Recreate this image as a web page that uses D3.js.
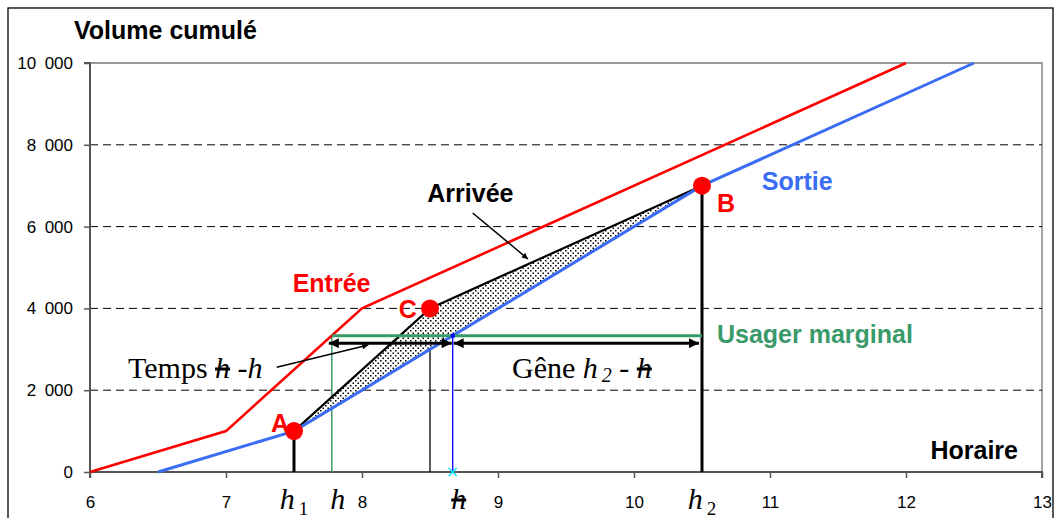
<!DOCTYPE html>
<html>
<head>
<meta charset="utf-8">
<script src="https://cdn.jsdelivr.net/npm/d3@7"></script>
<style>
  body { margin: 0; background: #fff; }
  svg { display: block; }
  .sans { font-family: "Liberation Sans", Arial, sans-serif; }
  .serif { font-family: "Liberation Serif", "Times New Roman", serif; }
</style>
</head>
<body>
<div id="chart"></div>
<script>
// Courbes cumulées (heure, volume)
const entreeX = [6, 7, 8, 12];
const entreeY = [0, 1000, 4000, 10000];
const sortieX = [6.5, 7.5, 10.5, 12.5];
const sortieY = [0, 1000, 7000, 10000];
const arriveeX = [7.5, 8.5, 10.5];
const arriveeY = [1000, 4000, 7000];

// points remarquables
const pointNames = ["A", "C", "B"];
const pointX = [7.5, 8.5, 10.5];
const pointY = [1000, 4000, 7000];

// usager marginal
const margVolume = 3333;
const margEntree = 7.778;   // h
const margSortie = 8.667;   // h'
const arrowVolume = 3150;
const h1 = 7.5, h2 = 10.5, hC = 8.5;

const xTicks = [6, 7, 8, 9, 10, 11, 12, 13];
const yTicks = [0, 2000, 4000, 6000, 8000, 10000];

const red = "#ff0000", blue = "#3a6cf4", green = "#3a9a6a";

const W = 1055, H = 518;
const svg = d3.select("#chart").append("svg").attr("width", W).attr("height", H);

const x = d3.scaleLinear().domain([6, 13]).range([90, 1042]);
const y = d3.scaleLinear().domain([0, 10000]).range([472, 63]);

const defs = svg.append("defs");
const pat = defs.append("pattern").attr("id", "dots")
    .attr("patternUnits", "userSpaceOnUse").attr("width", 5).attr("height", 5);
pat.append("rect").attr("width", 5).attr("height", 5).attr("fill", "#fff");
pat.append("rect").attr("x", 0).attr("y", 0).attr("width", 1.5).attr("height", 1.5).attr("fill", "#000");
pat.append("rect").attr("x", 2.5).attr("y", 2.5).attr("width", 1.5).attr("height", 1.5).attr("fill", "#000");

function marker(id, w, h) {
    defs.append("marker").attr("id", id)
        .attr("viewBox", "0 0 10 10").attr("refX", 10).attr("refY", 5)
        .attr("markerUnits", "userSpaceOnUse")
        .attr("markerWidth", w).attr("markerHeight", h)
        .attr("orient", "auto-start-reverse")
        .append("path").attr("d", "M0,0 L10,5 L0,10 Z").attr("fill", "#000");
}
marker("arrowBig", 13, 10);
marker("arrowSmall", 9, 6);

// cadre extérieur
svg.append("rect").attr("x", 8).attr("y", 8).attr("width", 1045).attr("height", 530)
    .attr("fill", "none").attr("stroke", "#000").attr("stroke-width", 1.3);

// bord du graphique (haut et droite)
svg.append("path")
    .attr("d", `M${x(6)},${y(10000)} H${x(13)} V${y(0)}`)
    .attr("fill", "none").attr("stroke", "#999").attr("stroke-width", 1.8);

// grille pointillée
svg.append("g").selectAll("line").data(yTicks.filter(d => d > 0 && d < 10000)).enter()
    .append("line")
    .attr("x1", x(6)).attr("x2", x(13))
    .attr("y1", d => y(d)).attr("y2", d => y(d))
    .attr("stroke", "#000").attr("stroke-width", 1).attr("stroke-dasharray", "8 5");

// axes
const fr = d3.formatLocale({ decimal: ",", thousands: "\u2002", grouping: [3], currency: ["", ""] });
const yAxis = svg.append("g")
    .attr("transform", `translate(${x(6)},0)`)
    .call(d3.axisLeft(y).tickValues(yTicks).tickSize(6).tickPadding(11).tickFormat(fr.format(",")));
const xAxis = svg.append("g")
    .attr("transform", `translate(0,${y(0)})`)
    .call(d3.axisBottom(x).tickValues(xTicks).tickSize(6).tickPadding(18).tickFormat(d3.format("d")));
[yAxis, xAxis].forEach(g => {
    g.attr("font-size", null).attr("font-family", null);
    g.select(".domain").attr("stroke", "#555").attr("stroke-width", 2);
    g.selectAll(".tick line").attr("stroke", "#555").attr("stroke-width", 1.5);
    g.selectAll("text")
        .style("font-size", "17px")
        .style("font-family", "'Liberation Sans', Arial, sans-serif")
        .attr("fill", "#000");
});
xAxis.select(".domain").attr("d", `M${x(6)},6V0H${x(13)}V6`);
yAxis.select(".domain").attr("d", `M-6,${y(10000)}H0V${y(0)}`);

// verticales
svg.append("line")
    .attr("x1", x(margEntree)).attr("x2", x(margEntree))
    .attr("y1", y(0)).attr("y2", y(margVolume))
    .attr("stroke", green).attr("stroke-width", 1.5);
svg.append("line")
    .attr("x1", x(hC)).attr("x2", x(hC))
    .attr("y1", y(0)).attr("y2", y(sortieY[1] + (hC - sortieX[1]) * 2000))
    .attr("stroke", "#000").attr("stroke-width", 1.3);
svg.append("line")
    .attr("x1", x(margSortie)).attr("x2", x(margSortie))
    .attr("y1", y(0)).attr("y2", y(margVolume))
    .attr("stroke", "#0000ff").attr("stroke-width", 1.3);
svg.append("line")
    .attr("x1", x(h1)).attr("x2", x(h1)).attr("y1", y(0)).attr("y2", y(pointY[0]))
    .attr("stroke", "#000").attr("stroke-width", 3);
svg.append("line")
    .attr("x1", x(h2)).attr("x2", x(h2)).attr("y1", y(0)).attr("y2", y(pointY[2]))
    .attr("stroke", "#000").attr("stroke-width", 3);

// zone de file d'attente (entre Arrivée et Sortie)
const lineGen = d3.line().x(d => x(d[0])).y(d => y(d[1]));
const arrivee = arriveeX.map((v, i) => [v, arriveeY[i]]);
const sortie = sortieX.map((v, i) => [v, sortieY[i]]);
const entree = entreeX.map((v, i) => [v, entreeY[i]]);
svg.append("path")
    .attr("d", lineGen(arrivee.concat([[sortieX[1], sortieY[1]]])) + "Z")
    .attr("fill", "url(#dots)").attr("stroke", "none");
svg.append("path").attr("d", lineGen(arrivee))
    .attr("fill", "none").attr("stroke", "#000").attr("stroke-width", 2.2);

// courbes
svg.append("path").attr("d", lineGen(sortie))
    .attr("fill", "none").attr("stroke", blue).attr("stroke-width", 3);
svg.append("path").attr("d", lineGen(entree))
    .attr("fill", "none").attr("stroke", red).attr("stroke-width", 2.6);

// usager marginal
svg.append("line")
    .attr("x1", x(margEntree)).attr("x2", x(h2))
    .attr("y1", y(margVolume)).attr("y2", y(margVolume))
    .attr("stroke", green).attr("stroke-width", 3);
svg.append("rect")
    .attr("x", x(margSortie) - 2).attr("y", y(margVolume) - 2).attr("width", 4).attr("height", 4)
    .attr("fill", "#0000ff");
svg.append("path")
    .attr("d", `M${x(margSortie) - 4},${y(0) - 4}l8,8M${x(margSortie) + 4},${y(0) - 4}l-8,8`)
    .attr("stroke", "#00e5ff").attr("stroke-width", 1.5);

// flèches
svg.append("line")
    .attr("x1", x(margEntree) - 3).attr("x2", x(margSortie) - 1)
    .attr("y1", y(arrowVolume)).attr("y2", y(arrowVolume))
    .attr("stroke", "#000").attr("stroke-width", 3)
    .attr("marker-start", "url(#arrowBig)").attr("marker-end", "url(#arrowBig)");
svg.append("line")
    .attr("x1", x(margSortie) + 1).attr("x2", x(h2) - 3)
    .attr("y1", y(arrowVolume)).attr("y2", y(arrowVolume))
    .attr("stroke", "#000").attr("stroke-width", 3)
    .attr("marker-start", "url(#arrowBig)").attr("marker-end", "url(#arrowBig)");

// traits de rappel
svg.append("line")
    .attr("x1", x(8.814)).attr("y1", y(6333)).attr("x2", x(9.22)).attr("y2", y(5208))
    .attr("stroke", "#000").attr("stroke-width", 1.5).attr("marker-end", "url(#arrowSmall)");
svg.append("line")
    .attr("x1", x(7.373)).attr("y1", y(2560)).attr("x2", x(8.046)).attr("y2", y(3105))
    .attr("stroke", "#000").attr("stroke-width", 1.5).attr("marker-end", "url(#arrowSmall)");

// points A, B, C
svg.append("g").selectAll("circle").data(pointX).enter()
    .append("circle")
    .attr("cx", d => x(d)).attr("cy", (d, i) => y(pointY[i])).attr("r", 9)
    .attr("fill", red);

// libellés
function label(txt, px, py, color, size, anchor) {
    return svg.append("text").attr("class", "sans")
        .attr("x", px).attr("y", py).attr("fill", color)
        .attr("font-size", size).attr("font-weight", "bold")
        .attr("text-anchor", anchor || "start").text(txt);
}
label("Volume cumulé", 74, 39, "#000", 25);
label("Horaire", 1018, 459, "#000", 25, "end");
label("Entrée", x(7.49), y(4400), red, 25);
label("Sortie", x(10.94), y(6895), blue, 25);
label("Arrivée", x(8.48), y(6600), "#000", 25);
label("Usager marginal", x(10.61), y(3154), green, 25);
label(pointNames[0], x(7.33), y(985), red, 25);
label(pointNames[1], x(8.27), y(3773), red, 25);
label(pointNames[2], x(10.61), y(6364), red, 25);

// textes en Times
function hLabel(px, py, sub, struck) {
    const t = svg.append("text").attr("class", "serif")
        .attr("x", px).attr("y", py).attr("text-anchor", "middle").attr("font-size", 30);
    t.append("tspan").attr("font-style", "italic")
        .attr("text-decoration", struck ? "line-through" : null).text("h");
    if (sub) t.append("tspan").attr("font-size", 19).attr("dy", 6).text("\u2009" + sub);
    return t;
}
hLabel(x(h1), 509, "1");
hLabel(x(h2), 509, "2");
hLabel(x(margEntree) + 6, 509);
hLabel(x(margSortie) + 6, 509, null, true);

const temps = svg.append("text").attr("class", "serif")
    .attr("x", 128).attr("y", 378).attr("font-size", 30);
temps.append("tspan").text("Temps ");
temps.append("tspan").attr("font-style", "italic").attr("text-decoration", "line-through").text("h");
temps.append("tspan").text(" -");
temps.append("tspan").attr("font-style", "italic").text("h");

const gene = svg.append("text").attr("class", "serif")
    .attr("x", 512).attr("y", 378).attr("font-size", 30);
gene.append("tspan").text("Gêne ");
gene.append("tspan").attr("font-style", "italic").text("h");
gene.append("tspan").attr("font-size", 20).attr("dy", 4).attr("font-style", "italic").text("\u20092");
gene.append("tspan").attr("dy", -4).text(" - ");
gene.append("tspan").attr("font-style", "italic").attr("text-decoration", "line-through").text("h");
</script>
</body>
</html>
